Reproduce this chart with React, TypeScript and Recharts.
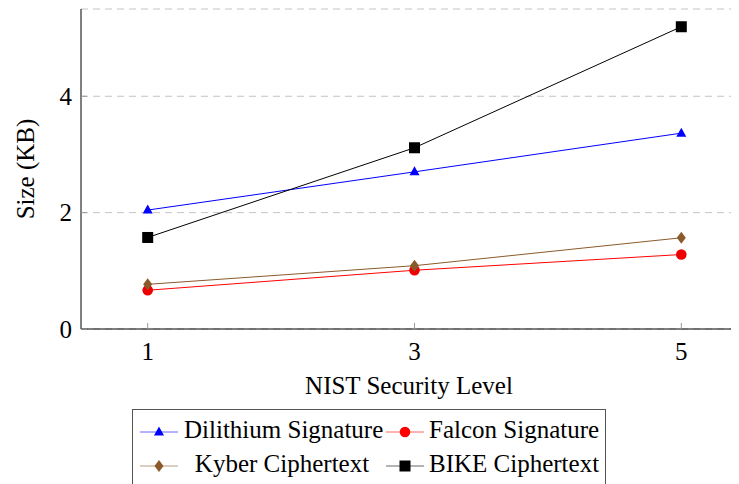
import { LineChart, Line, XAxis, YAxis, CartesianGrid, Label } from "recharts"

const levels = [1, 3, 5]
const dilithium = [2.044, 2.701, 3.366]
const falcon = [0.666, 1.01, 1.28]
const kyber = [0.768, 1.088, 1.568]
const bike = [1.573, 3.115, 5.195]
const xTicks = [1, 3, 5]
const yTicks = [0, 2, 4]

const data = levels.map((level, i) => ({
  level,
  dilithium: dilithium[i],
  falcon: falcon[i],
  kyber: kyber[i],
  bike: bike[i],
}))

const FONT = "Liberation Serif"
const BROWN = "#8b5a2b"

const Triangle = ({ cx, cy, fill }: any) => (
  <polygon points={`${cx},${cy - 5.5} ${cx - 5},${cy + 3.5} ${cx + 5},${cy + 3.5}`} fill={fill} />
)
const Circle = ({ cx, cy, fill }: any) => <circle cx={cx} cy={cy} r={5.3} fill={fill} />
const Diamond = ({ cx, cy, fill }: any) => (
  <polygon points={`${cx},${cy - 6} ${cx + 4.5},${cy} ${cx},${cy + 6} ${cx - 4.5},${cy}`} fill={fill} />
)
const Square = ({ cx, cy, fill }: any) => (
  <rect x={cx - 5.5} y={cy - 5.5} width={11} height={11} fill={fill} />
)

const BottomTick = ({ x, y, payload }: any) => (
  <g>
    <line x1={x} y1={y} x2={x} y2={y - 6} stroke="#999" />
    <text x={x} y={y + 31} textAnchor="middle" fontSize={25} fontFamily={FONT} fill="#000">
      {payload.value}
    </text>
  </g>
)
const TopTick = ({ x, y }: any) => <line x1={x} y1={y} x2={x} y2={y + 6} stroke="#999" />
const LeftTick = ({ x, y, payload }: any) => (
  <g>
    <line x1={x} y1={y} x2={x + 6} y2={y} stroke="#999" />
    <text x={x - 9} y={y + 8.5} textAnchor="end" fontSize={25} fontFamily={FONT} fill="#000">
      {payload.value}
    </text>
  </g>
)

const legendItems = [
  { name: "Dilithium Signature", color: "#0000ff", mark: "tri" },
  { name: "Falcon Signature", color: "#ff0000", mark: "circle" },
  { name: "Kyber Ciphertext", color: BROWN, mark: "diamond" },
  { name: "BIKE Ciphertext", color: "#000", mark: "square" },
]

function Sample({ color, mark }: { color: string; mark: string }) {
  const cx = 19
  const cy = 8
  return (
    <svg width={38} height={16} style={{ display: "block" }}>
      <line x1={0} y1={cy} x2={38} y2={cy} stroke={color} strokeOpacity={0.6} />
      {mark === "tri" && <Triangle cx={cx} cy={cy} fill={color} />}
      {mark === "circle" && <Circle cx={cx} cy={cy} fill={color} />}
      {mark === "diamond" && <Diamond cx={cx} cy={cy} fill={color} />}
      {mark === "square" && <Square cx={cx} cy={cy} fill={color} />}
    </svg>
  )
}

export default function App() {
  return (
    <div style={{ position: "relative", width: 731, height: 476, overflow: "hidden" }}>
      <LineChart
        width={760}
        height={476}
        data={data}
        margin={{ top: 1, right: 20, left: 0, bottom: 75 }}
      >
        <CartesianGrid vertical={false} stroke="#c4c4c4" strokeDasharray="7 5" />
        <XAxis
          xAxisId="top"
          orientation="top"
          dataKey="level"
          type="number"
          domain={[0.5, 5.5]}
          ticks={xTicks}
          height={0}
          tickSize={0}
          tickMargin={0}
          tick={<TopTick />}
          axisLine={{ stroke: "#000" }}
          tickLine={false}
        />
        <XAxis
          dataKey="level"
          type="number"
          domain={[0.5, 5.5]}
          ticks={xTicks}
          height={80}
          tickSize={0}
          tickMargin={0}
          tick={<BottomTick />}
          axisLine={{ stroke: "#000" }}
          tickLine={false}
        >
          <Label
            content={({ viewBox }: any) => (
              <text
                x={409 - 8}
                y={viewBox.y + 65}
                textAnchor="middle"
                fontSize={25}
                fontFamily={FONT}
                fill="#000"
              >
                NIST Security Level
              </text>
            )}
          />
        </XAxis>
        <YAxis
          domain={[0, 5.5]}
          ticks={yTicks}
          width={73}
          tickSize={0}
          tickMargin={0}
          tick={<LeftTick />}
          axisLine={{ stroke: "#000" }}
          tickLine={false}
        >
          <Label
            content={({ viewBox }: any) => (
              <text
                x={20}
                y={viewBox.y + viewBox.height / 2}
                transform={`rotate(-90 20 ${viewBox.y + viewBox.height / 2})`}
                textAnchor="middle"
                dominantBaseline="middle"
                fontSize={25}
                fontFamily={FONT}
                fill="#000"
              >
                Size (KB)
              </text>
            )}
          />
        </YAxis>
        <Line dataKey="dilithium" stroke="#0000ff" strokeWidth={1} dot={<Triangle fill="#0000ff" />} isAnimationActive={false} />
        <Line dataKey="falcon" stroke="#ff0000" strokeWidth={1} dot={<Circle fill="#ee0000" />} isAnimationActive={false} />
        <Line dataKey="kyber" stroke={BROWN} strokeWidth={1} dot={<Diamond fill={BROWN} />} isAnimationActive={false} />
        <Line dataKey="bike" stroke="#000" strokeWidth={1} dot={<Square fill="#000" />} isAnimationActive={false} />
      </LineChart>
      <div
        style={{
          position: "absolute",
          left: 124,
          top: 401,
          width: 472,
          height: 90,
          border: "1px solid #555",
          background: "#fff",
        }}
      >
        {legendItems.map((item, i) => {
          const col = i % 2
          const row = Math.floor(i / 2)
          const textLeft = col === 0 ? 51 : 296
          const textWidth = col === 0 ? 196 : 166
          return (
            <div key={item.name}>
              <div style={{ position: "absolute", left: col === 0 ? 7 : 253, top: 14 + row * 34 }}>
                <Sample color={item.color} mark={item.mark} />
              </div>
              <div
                style={{
                  position: "absolute",
                  left: textLeft,
                  width: textWidth,
                  top: 5 + row * 34,
                  fontFamily: FONT,
                  fontSize: 25,
                  lineHeight: "30px",
                  textAlign: "center",
                  whiteSpace: "nowrap",
                }}
              >
                {item.name}
              </div>
            </div>
          )
        })}
      </div>
    </div>
  )
}
